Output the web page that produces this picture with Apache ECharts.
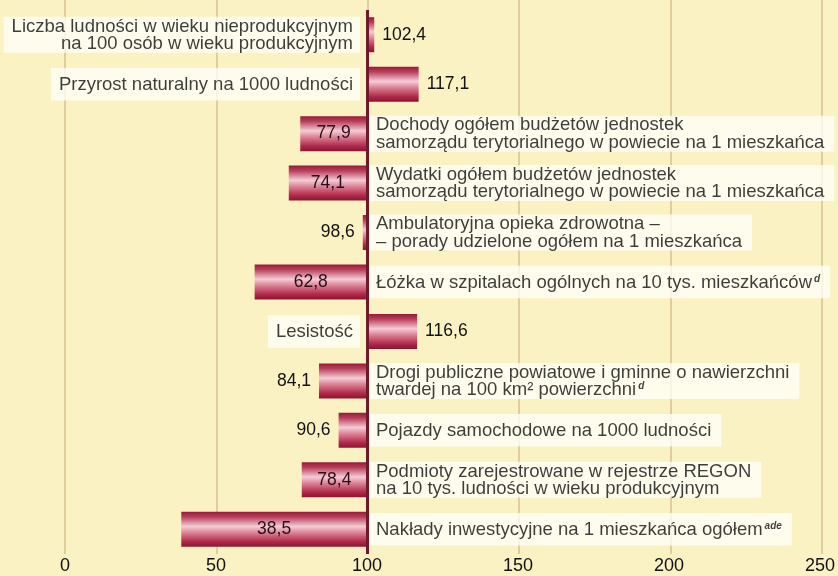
<!DOCTYPE html>
<html>
<head>
<meta charset="utf-8">
<script src="https://cdn.jsdelivr.net/npm/echarts@6/dist/echarts.min.js"></script>
<style>
html,body{margin:0;padding:0;background:#faf2c3;}
#chart{width:838px;height:576px;}
</style>
</head>
<body>
<div id="chart"></div>
<script>
const categories = [
  'Liczba ludności w wieku nieprodukcyjnym\nna 100 osób w wieku produkcyjnym',
  'Przyrost naturalny na 1000 ludności',
  'Dochody ogółem budżetów jednostek\nsamorządu terytorialnego w powiecie na 1 mieszkańca',
  'Wydatki ogółem budżetów jednostek\nsamorządu terytorialnego w powiecie na 1 mieszkańca',
  'Ambulatoryjna opieka zdrowotna –\n– porady udzielone ogółem na 1 mieszkańca',
  'Łóżka w szpitalach ogólnych na 10 tys. mieszkańców',
  'Lesistość',
  'Drogi publiczne powiatowe i gminne o nawierzchni\ntwardej na 100 km² powierzchni',
  'Pojazdy samochodowe na 1000 ludności',
  'Podmioty zarejestrowane w rejestrze REGON\nna 10 tys. ludności w wieku produkcyjnym',
  'Nakłady inwestycyjne na 1 mieszkańca ogółem'
];
const notes = ['', '', '', '', '', 'd', '', 'd', '', '', 'ade'];
const values = [102.4, 117.1, 77.9, 74.1, 98.6, 62.8, 116.6, 84.1, 90.6, 78.4, 38.5];
const xTicks = [0, 50, 100, 150, 200, 250];
const baseValue = 100;

const FONT = "'Liberation Sans', Arial, sans-serif";
const fmt = v => v.toFixed(1).replace('.', ',');

const barGradient = new echarts.graphic.LinearGradient(0, 0, 0, 1, [
  {offset: 0, color: '#951a38'},
  {offset: 0.15, color: '#b9405d'},
  {offset: 0.42, color: '#f4ccd6'},
  {offset: 0.6, color: '#dc8197'},
  {offset: 0.85, color: '#b12a4a'},
  {offset: 1, color: '#8a1532'}
]);

const baseData = values.map(v => Math.min(v, baseValue));
const deltaData = values.map(v => {
  const d = Math.abs(v - baseValue);
  let pos, color, dist;
  if (v > baseValue) { pos = 'right'; color = '#111'; dist = 8; }
  else if (d > 20) { pos = 'inside'; color = '#2a0e16'; dist = 0; }
  else { pos = 'left'; color = '#111'; dist = 8; }
  return {value: d, label: {position: pos, color: color, distance: dist}};
});

const labelData = values.map((v, i) => {
  const twoLines = categories[i].indexOf('\n') >= 0;
  const left = v > baseValue;
  const pv = twoLines ? 1 : 8;
  return {
    value: [baseValue, i],
    label: {
      position: left ? 'left' : 'right',
      distance: left ? 7 : 3,
      align: left ? 'right' : 'left',
      padding: left ? [pv, 7, pv - 1, 8] : [pv, 10, pv - 1, 6]
    }
  };
});

const chart = echarts.init(document.getElementById('chart'), null, {renderer: 'canvas'});
chart.setOption({
  backgroundColor: '#faf2c3',
  animation: false,
  grid: [
    {left: 65, right: 16, top: 10, bottom: 22},
    {left: 65, right: 16, top: 0, bottom: 22}
  ],
  xAxis: [
    {
      gridIndex: 0, type: 'value', min: xTicks[0], max: xTicks[xTicks.length - 1],
      interval: xTicks[1] - xTicks[0],
      axisLine: {show: false}, axisTick: {show: false},
      splitLine: {show: false},
      axisLabel: {fontFamily: FONT, fontSize: 18, color: '#111', margin: 3}
    },
    {
      gridIndex: 1, type: 'value', min: xTicks[0], max: xTicks[xTicks.length - 1],
      interval: xTicks[1] - xTicks[0],
      axisLine: {show: false}, axisTick: {show: false}, axisLabel: {show: false},
      splitLine: {show: true, lineStyle: {color: '#d6c28e', width: 1.5}}
    }
  ],
  yAxis: [
    {
      gridIndex: 0, type: 'category', inverse: true,
      data: categories.map((c, i) => i),
      axisLine: {show: false}, axisTick: {show: false}, axisLabel: {show: false},
      splitLine: {show: false}
    },
    {
      gridIndex: 1, type: 'category', inverse: true,
      data: categories.map((c, i) => i),
      axisLine: {show: false}, axisTick: {show: false}, axisLabel: {show: false},
      splitLine: {show: false}
    }
  ],
  series: [
    {
      type: 'bar', stack: 'total', xAxisIndex: 0, yAxisIndex: 0,
      barWidth: 35, silent: true,
      itemStyle: {color: 'rgba(0,0,0,0)'},
      data: baseData
    },
    {
      type: 'bar', stack: 'total', xAxisIndex: 0, yAxisIndex: 0,
      barWidth: 35,
      itemStyle: {color: barGradient},
      label: {
        show: true, fontFamily: FONT, fontSize: 17.5,
        formatter: p => fmt(values[p.dataIndex])
      },
      data: deltaData,
      markLine: {
        silent: true, symbol: ['none', 'none'],
        label: {show: false},
        lineStyle: {color: '#6e1a2a', width: 3, type: 'solid'},
        data: [{xAxis: baseValue}]
      },
      z: 3
    },
    {
      type: 'scatter', xAxisIndex: 0, yAxisIndex: 0,
      symbolSize: 0, silent: true,
      label: {
        show: true, fontFamily: FONT, fontSize: 18.5, color: '#0d0d0d',
        lineHeight: 17.5,
        backgroundColor: 'rgba(255,255,250,0.95)',
        formatter: p => {
          const i = p.dataIndex;
          return categories[i] + (notes[i] ? '{sup|' + notes[i] + '}' : '');
        },
        rich: {
          sup: {fontFamily: FONT, fontSize: 10, fontStyle: 'italic', fontWeight: 'bold',
                color: '#111', verticalAlign: 'top', lineHeight: 10, padding: [0, 0, 8, 2]}
        }
      },
      data: labelData,
      z: 4
    }
  ]
});
</script>
</body>
</html>
